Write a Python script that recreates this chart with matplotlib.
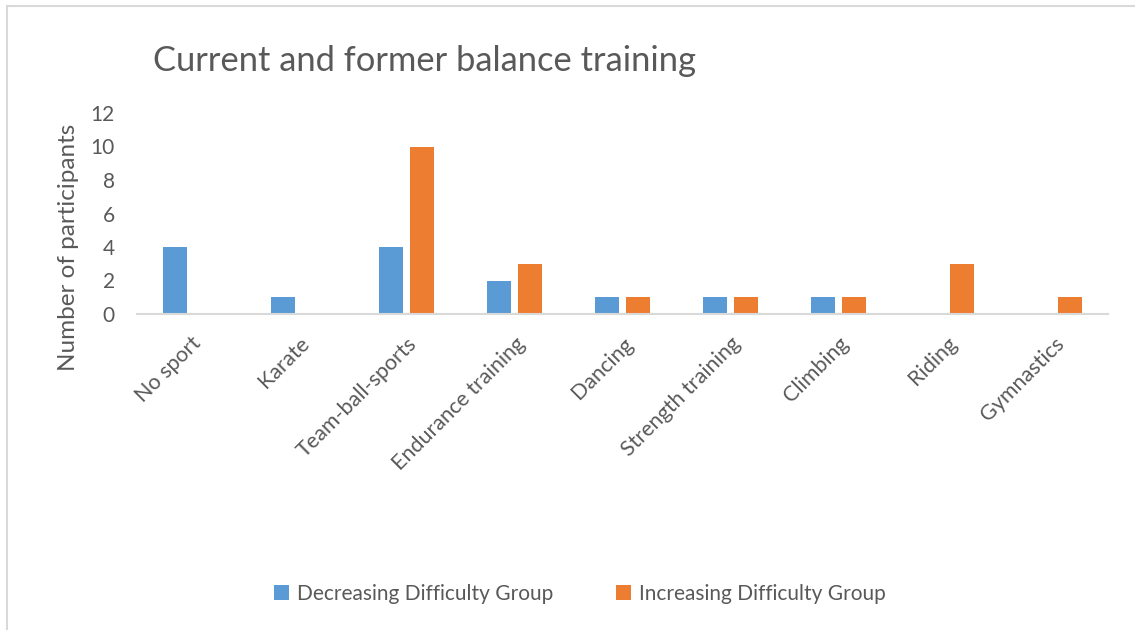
import numpy as np
import matplotlib.pyplot as plt
from matplotlib.lines import Line2D

plt.rcParams['font.family'] = ['Lato', 'DejaVu Sans']

categories = ['No sport', 'Karate', 'Team-ball-sports', 'Endurance training', 'Dancing',
              'Strength training', 'Climbing', 'Riding', 'Gymnastics']
decreasing = [4, 1, 4, 2, 1, 1, 1, 0, 0]
increasing = [0, 0, 10, 3, 1, 1, 1, 3, 1]
yticks = [0, 2, 4, 6, 8, 10, 12]

txt = '#595959'
blue = '#5B9BD5'
orange = '#ED7D31'

fig = plt.figure(figsize=(11.35, 6.3), dpi=100)
ax = fig.add_axes([137 / 1135, 1 - 314 / 630, (1108 - 137) / 1135, (314 - 113) / 630])

x = np.arange(len(categories))
w = 0.222
gap = 0.065
ax.bar(x - (w + gap) / 2, decreasing, w, color=blue, label='Decreasing Difficulty Group')
ax.bar(x + (w + gap) / 2, increasing, w, color=orange, label='Increasing Difficulty Group')

ax.set_xlim(-0.5, len(categories) - 0.5)
ax.set_ylim(0, 12)
ax.set_yticks(yticks)
ax.tick_params(axis='y', length=0, labelsize=15, labelcolor=txt, pad=16)
ax.tick_params(axis='x', length=0, labelsize=15.5, labelcolor=txt, pad=14)
ax.set_xticks(x)
ax.set_xticklabels(categories, rotation=45, ha='right', rotation_mode='anchor')

for s in ['top', 'right', 'left']:
    ax.spines[s].set_visible(False)
ax.spines['bottom'].set_color('#D9D9D9')
ax.spines['bottom'].set_linewidth(1.5)

ax.set_ylabel('Number of participants', fontsize=17.5, color=txt)
ax.yaxis.set_label_coords((79 - 137) / (1108 - 137), (314 - 247) / (314 - 113))

fig.text(153 / 1135, 1 - 61 / 630, 'Current and former balance training',
         fontsize=24.8, color=txt, ha='left', va='center')

fig.legend(loc='center', bbox_to_anchor=(580 / 1135, 1 - 594 / 630), ncol=2,
           frameon=False, fontsize=15, labelcolor=txt, handlelength=0.7,
           handleheight=0.7, handletextpad=0.4, columnspacing=3)

# outer frame (left and top only visible)
fig.add_artist(Line2D([6.5 / 1135, 6.5 / 1135], [0, 1 - 5.5 / 630], color='#D9D9D9', lw=1.5,
                      transform=fig.transFigure))
fig.add_artist(Line2D([6.5 / 1135, 1], [1 - 5.5 / 630, 1 - 5.5 / 630], color='#D9D9D9', lw=1.5,
                      transform=fig.transFigure))

fig.savefig('out.png', dpi=100)
